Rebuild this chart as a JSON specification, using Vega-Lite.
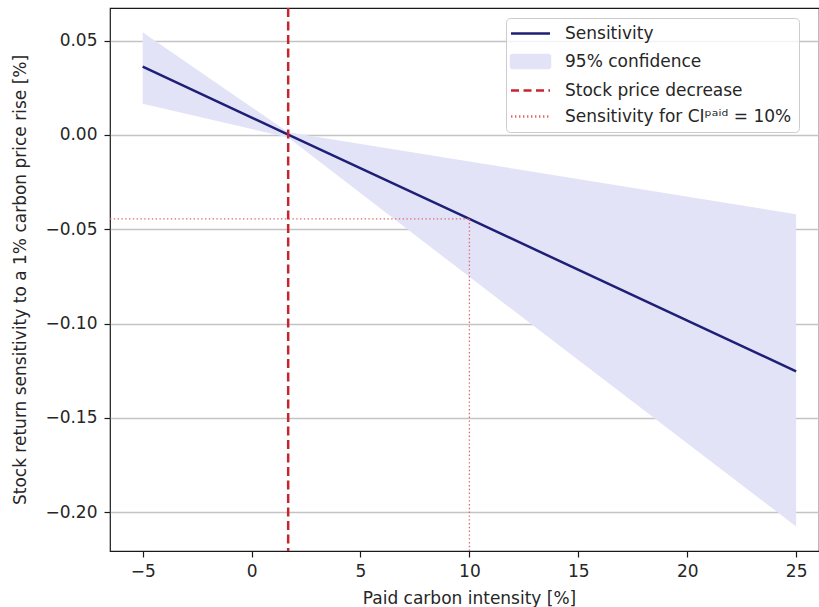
{
  "$schema": "https://vega.github.io/schema/vega-lite/v6.json",
  "width": 709,
  "height": 543,
  "autosize": {"type": "none"},
  "padding": {"left": 110, "top": 8, "right": 0, "bottom": 56},
  "background": "white",
  "datasets": {
    "band": [
      {"x": -5, "lower": 0.0166, "upper": 0.0545, "sens": 0.0362},
      {"x": 1.68, "lower": -0.0014, "upper": 0.0014, "sens": 0.0002},
      {"x": 10, "lower": -0.0752, "upper": -0.0140, "sens": -0.0445},
      {"x": 25, "lower": -0.2075, "upper": -0.0420, "sens": -0.1253}
    ],
    "decrease": [{"x": 1.68}],
    "at10": [
      {"x": -6.5, "x2": 10, "y": -0.0445, "y2": -0.0445},
      {"x": 10, "x2": 10, "y": -0.2205, "y2": -0.0445}
    ]
  },
  "layer": [
    {
      "data": {"name": "band"},
      "mark": {"type": "area", "opacity": 1},
      "encoding": {
        "x": {
          "field": "x", "type": "quantitative",
          "scale": {"domain": [-6.5, 26.05], "nice": false, "zero": false},
          "axis": {
            "values": [-5, 0, 5, 10, 15, 20, 25], "format": "d",
            "title": "Paid carbon intensity [%]", "grid": false, "domain": false,
            "titleX": 359, "titleY": 52, "titleBaseline": "alphabetic", "titleAlign": "center",
            "labelPadding": 6
          }
        },
        "y": {
          "field": "lower", "type": "quantitative",
          "scale": {"domain": [-0.2205, 0.0673], "nice": false, "zero": false},
          "axis": {
            "values": [-0.2, -0.15, -0.1, -0.05, 0, 0.05], "format": ".2f",
            "title": "Stock return sensitivity to a 1% carbon price rise [%]",
            "grid": true, "gridColor": "#c4c4c4", "gridWidth": 1.3, "domain": false,
            "titleX": -85, "titleY": 271.5, "titleAngle": -90, "titleBaseline": "alphabetic", "titleAlign": "center",
            "labelPadding": 7
          }
        },
        "y2": {"field": "upper"},
        "color": {
          "datum": "95% confidence", "type": "nominal",
          "scale": {
            "domain": ["Sensitivity", "95% confidence", "Stock price decrease", "Sensitivity for CIᵖᵃⁱᵈ = 10%"],
            "range": ["#1f1f75", "#e3e3f8", "#c62530", "#e06868"]
          },
          "legend": {
            "title": null, "orient": "none", "legendX": 396, "legendY": 10,
            "padding": 7, "fillColor": "rgba(255,255,255,0.8)", "strokeColor": "#cccccc", "cornerRadius": 4,
            "symbolSize": 100, "labelOffset": 35, "rowPadding": 8, "labelLimit": 400,
            "labelFont": "DejaVu Sans", "labelFontSize": 17, "labelColor": "#262626",
            "symbolStrokeWidth": 2.5,
            "encoding": {
              "symbols": {
                "shape": {"value": {"expr": "datum.value === '95% confidence' ? 'M-2.1,-1.3H5.7V1.3H-2.1Z' : 'M-2.1,0H5.7'"}},
                "fill": {"value": {"expr": "datum.value === '95% confidence' ? '#e3e3f8' : 'transparent'"}},
                "stroke": {"value": {"expr": "datum.value === 'Sensitivity' ? '#1f1f75' : datum.value === 'Stock price decrease' ? '#c62530' : datum.value === '95% confidence' ? 'transparent' : '#e27070'"}},
                "strokeDash": {"value": {"expr": "datum.value === 'Stock price decrease' ? [8, 4.5] : indexof(datum.value, ' for ') >= 0 ? [1.4, 2.6] : [1, 0]"}},
                "opacity": {"value": 1}
              }
            }
          }
        }
      }
    },
    {
      "data": {"name": "band"},
      "mark": {"type": "line", "strokeWidth": 2.5},
      "encoding": {
        "x": {"field": "x", "type": "quantitative"},
        "y": {"field": "sens", "type": "quantitative"},
        "color": {"datum": "Sensitivity", "type": "nominal"}
      }
    },
    {
      "data": {"name": "decrease"},
      "mark": {"type": "rule", "strokeWidth": 2.5, "strokeDash": [9, 4.5]},
      "encoding": {
        "x": {"field": "x", "type": "quantitative"},
        "color": {"datum": "Stock price decrease", "type": "nominal"}
      }
    },
    {
      "data": {"name": "at10"},
      "mark": {"type": "rule", "strokeWidth": 1.3, "strokeDash": [1.4, 2.4]},
      "encoding": {
        "x": {"field": "x", "type": "quantitative"},
        "x2": {"field": "x2"},
        "y": {"field": "y", "type": "quantitative"},
        "y2": {"field": "y2"},
        "color": {"datum": "Sensitivity for CIᵖᵃⁱᵈ = 10%", "type": "nominal"}
      }
    }
  ],
  "config": {
    "font": "DejaVu Sans",
    "view": {"stroke": "#1a1a1a", "strokeWidth": 1.2},
    "axis": {
      "labelFont": "DejaVu Sans", "labelFontSize": 17, "labelColor": "#262626",
      "titleFont": "DejaVu Sans", "titleFontSize": 17, "titleFontWeight": "normal", "titleColor": "#262626",
      "tickColor": "#1a1a1a", "tickSize": 6, "tickWidth": 1.2
    }
  }
}
